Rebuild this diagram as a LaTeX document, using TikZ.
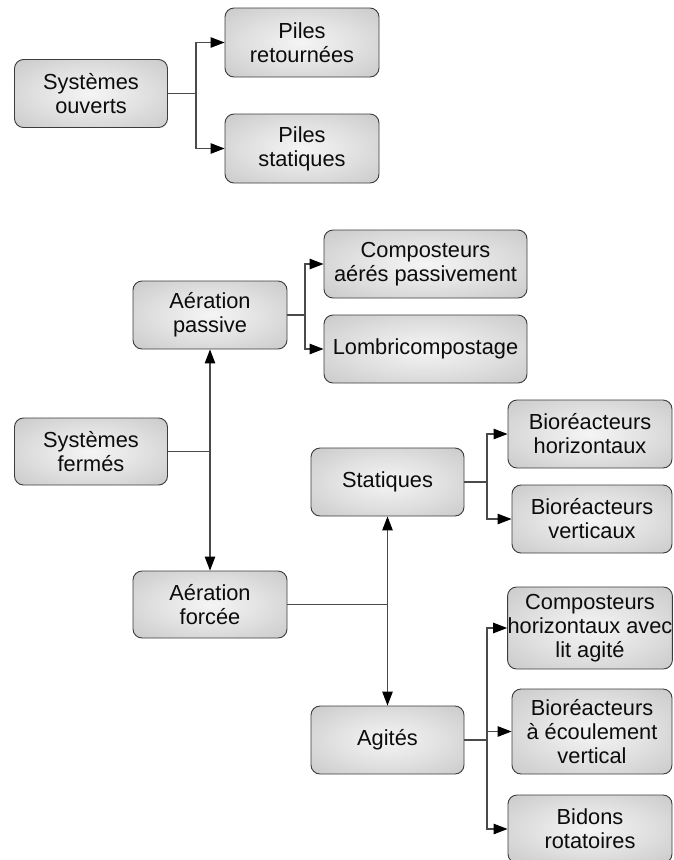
\documentclass[tikz,border=0pt]{standalone}
\usepackage{fontspec}
\setmainfont{Liberation Sans}
\usetikzlibrary{arrows.meta}
\definecolor{boxedge}{HTML}{3C3C3C}
\definecolor{linkgray}{HTML}{4A4A4A}
\definecolor{labelink}{HTML}{0C0C0C}
% soft grey glow: light in the middle, darker toward the rim
\pgfdeclareradialshading{boxglow}{\pgfpoint{0bp}{0bp}}{%
  color(0bp)=(white!96!black);
  color(18bp)=(white!88!black);
  color(50bp)=(white!72!black);
  color(71bp)=(white!62!black)}
\begin{document}
\begin{tikzpicture}[x=1pt,y=-1pt,
  cbox/.style={shading=boxglow, draw=boxedge, line width=0.9pt,
    rounded corners=9pt, inner sep=0pt, align=center,
    text=labelink, font=\fontsize{21.8}{24}\selectfont},
  link/.style={draw=linkgray, line width=1.1pt},
  arrowlink/.style={link, -{Triangle[length=14pt,width=10.5pt,color=black]}}]
\useasboundingbox (0,0) rectangle (673,860);

% open systems
\node[cbox, minimum width=153pt, minimum height=68pt] (so) at (91,93.5) {Systèmes\\ouverts};
\node[cbox, minimum width=154pt, minimum height=69pt] (pr) at (302,42.5) {Piles\\retournées};
\node[cbox, minimum width=154pt, minimum height=69pt] (ps) at (302,148.5) {Piles\\statiques};

% closed systems
\node[cbox, minimum width=154pt, minimum height=68pt] (ap) at (210,315) {Aération\\passive};
\node[cbox, minimum width=203pt, minimum height=68pt] (cap) at (425.5,264) {Composteurs\\aérés passivement};
\node[cbox, minimum width=203pt, minimum height=68pt] (lc) at (425.5,349) {Lombricompostage};
\node[cbox, minimum width=153pt, minimum height=67pt] (sf) at (91,451.5) {Systèmes\\fermés};
\node[cbox, minimum width=154pt, minimum height=67pt] (af) at (210,604.5) {Aération\\forcée};
\node[cbox, minimum width=153pt, minimum height=68pt] (st) at (387.5,482) {Statiques};
\node[cbox, minimum width=153pt, minimum height=68pt] (ag) at (387.5,740) {Agités};
\node[cbox, minimum width=164pt, minimum height=68pt] (bh) at (590,434) {Bioréacteurs\\horizontaux};
\node[cbox, minimum width=160pt, minimum height=68pt] (bv) at (592,519) {Bioréacteurs\\verticaux};
\node[cbox, minimum width=164pt, minimum height=82pt] (ch) at (590,628) {Composteurs\\horizontaux avec\\lit agité};
\node[cbox, minimum width=160pt, minimum height=85pt] (be) at (592,731.5) {Bioréacteurs\\à écoulement\\vertical};
\node[cbox, minimum width=164pt, minimum height=68pt] (br) at (590,829) {Bidons\\rotatoires};

% branch points
\coordinate (j1) at (196,93.5);
\coordinate (j2) at (305,315);
\coordinate (j3) at (210,451.5);
\coordinate (j4) at (387.5,604.5);
\coordinate (j5) at (487,482);
\coordinate (j6) at (487,740);

% connectors
\draw[link] (so.east) -- (j1);
\draw[arrowlink] (j1) |- (pr.west);
\draw[arrowlink] (j1) |- (ps.west);

\draw[link] (ap.east) -- (j2);
\draw[arrowlink] (j2) |- (cap.west);
\draw[arrowlink] (j2) |- (lc.west);

\draw[link] (sf.east) -- (j3);
\draw[arrowlink] (j3) -- (ap.south);
\draw[arrowlink] (j3) -- (af.north);

\draw[link] (af.east) -- (j4);
\draw[arrowlink] (j4) -- (st.south);
\draw[arrowlink] (j4) -- (ag.north);

\draw[link] (st.east) -- (j5);
\draw[arrowlink] (j5) |- (bh.west);
\draw[arrowlink] (j5) |- (bv.west);

\draw[link] (ag.east) -- (j6);
\draw[arrowlink] (j6) |- (ch.west);
\draw[arrowlink] (j6) |- (be.west);
\draw[arrowlink] (j6) |- (br.west);
\end{tikzpicture}
\end{document}
